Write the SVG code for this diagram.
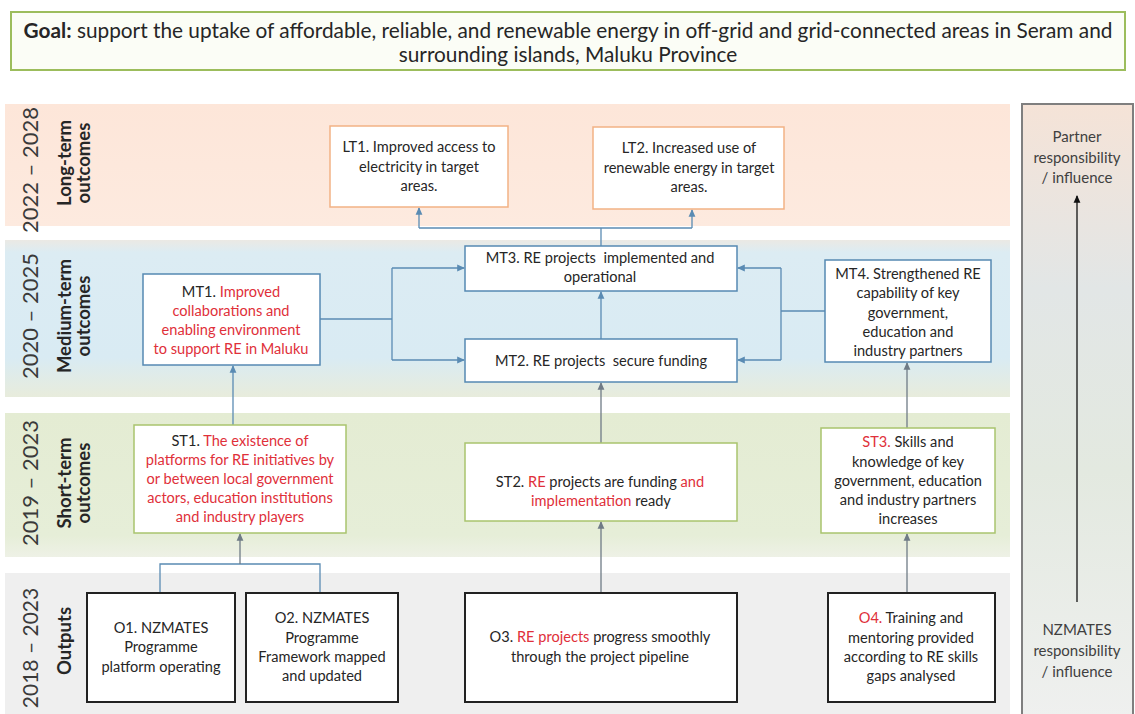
<svg xmlns="http://www.w3.org/2000/svg" width="1135" height="714" viewBox="0 0 1135 714">
<style>
text{font-family:Lato,"Open Sans","Liberation Sans",sans-serif;fill:#262626;}
.t{font-size:14.6px;text-anchor:middle;}
.r{fill:#e0303a;}
.yr{font-size:22px;text-anchor:middle;fill:#3a3a3a;}
.lb{font-size:18.5px;font-weight:bold;text-anchor:middle;fill:#262626;}
.side{font-size:15px;text-anchor:middle;fill:#404040;}
.lt{fill:#ffffff;stroke:#f2b285;stroke-width:1.5;}
.mt{fill:#ffffff;stroke:#5689b3;stroke-width:1.5;}
.st{fill:#ffffff;stroke:#a9c46e;stroke-width:1.5;}
.op{fill:#ffffff;stroke:#222;stroke-width:2;}
.cb{fill:none;stroke:#5a8bb3;stroke-width:1.3;}
.cg{fill:none;stroke:#6f7b86;stroke-width:1.3;}
</style>
<defs>
<marker id="ab" viewBox="0 0 8 8" refX="7" refY="4" markerWidth="6" markerHeight="6" orient="auto-start-reverse"><path d="M0,0.5 L8,4 L0,7.5 z" fill="#5a8bb3"/></marker>
<marker id="ag" viewBox="0 0 8 8" refX="7" refY="4" markerWidth="6" markerHeight="6" orient="auto-start-reverse"><path d="M0,0.5 L8,4 L0,7.5 z" fill="#6f7b86"/></marker>
<marker id="ak" viewBox="0 0 8 8" refX="7" refY="4" markerWidth="6" markerHeight="6" orient="auto-start-reverse"><path d="M0,0.5 L8,4 L0,7.5 z" fill="#111"/></marker>
<linearGradient id="gm" x1="0" y1="0" x2="0" y2="1">
<stop offset="0" stop-color="#ebe9e4"/><stop offset="0.08" stop-color="#dcecf3"/><stop offset="0.75" stop-color="#d9ebf3"/><stop offset="1" stop-color="#e8ecdc"/>
</linearGradient>
<linearGradient id="gs" x1="0" y1="0" x2="0" y2="1">
<stop offset="0" stop-color="#e4ecd3"/><stop offset="0.85" stop-color="#e6eed8"/><stop offset="1" stop-color="#eef1e6"/>
</linearGradient>
<linearGradient id="gl" x1="0" y1="0" x2="0" y2="1">
<stop offset="0" stop-color="#fde6d9"/><stop offset="1" stop-color="#fdeadf"/>
</linearGradient>
<linearGradient id="gc" x1="0" y1="0" x2="0" y2="1">
<stop offset="0" stop-color="#f5e3d7"/><stop offset="0.3" stop-color="#e2e6e6"/><stop offset="0.6" stop-color="#e3e9e0"/><stop offset="1" stop-color="#eff0ef"/>
</linearGradient>
</defs>
<rect x="0" y="0" width="1135" height="714" fill="#ffffff"/>

<!-- Goal -->
<g id="goal">
<rect x="11" y="12" width="1114" height="58" fill="#fbfdf6" stroke="#9cbd5c" stroke-width="2"/>
<text x="568" y="38" style="font-size:20.8px;text-anchor:middle"><tspan font-weight="bold">Goal:</tspan> support the uptake of affordable, reliable, and renewable energy in off-grid and grid-connected areas in Seram and</text>
<text x="568" y="62" style="font-size:20.8px;text-anchor:middle">surrounding islands, Maluku Province</text>
</g>

<!-- Bands -->
<g id="bands">
<rect x="5" y="104" width="1005" height="122" fill="url(#gl)"/>
<rect x="5" y="240" width="1005" height="157" fill="url(#gm)"/>
<rect x="5" y="413" width="1005" height="144" fill="url(#gs)"/>
<rect x="5" y="573" width="1005" height="141" fill="#efefef"/>
</g>

<!-- Row labels -->
<g id="row-labels">
<text class="yr" transform="translate(38,170) rotate(-90)">2022 – 2028</text>
<text class="lb" transform="translate(71,163) rotate(-90)">Long-term</text>
<text class="lb" transform="translate(90,163) rotate(-90)">outcomes</text>
<text class="yr" transform="translate(38,316) rotate(-90)">2020 – 2025</text>
<text class="lb" transform="translate(71,316) rotate(-90)">Medium-term</text>
<text class="lb" transform="translate(90,316) rotate(-90)">outcomes</text>
<text class="yr" transform="translate(38,483) rotate(-90)">2019 – 2023</text>
<text class="lb" transform="translate(71,483) rotate(-90)">Short-term</text>
<text class="lb" transform="translate(90,483) rotate(-90)">outcomes</text>
<text class="yr" transform="translate(38,648) rotate(-90)" style="font-size:21px">2018 – 2023</text>
<text class="lb" transform="translate(71,641) rotate(-90)">Outputs</text>
</g>

<!-- Responsibility column -->
<g id="responsibility">
<rect x="1022" y="104" width="111" height="614" fill="url(#gc)" stroke="#7f7f7f" stroke-width="2"/>
<text class="side" x="1077" y="142">Partner</text>
<text class="side" x="1077" y="163">responsibility</text>
<text class="side" x="1077" y="183">/ influence</text>
<line x1="1077" y1="602" x2="1077" y2="196" stroke="#111" stroke-width="1.3" marker-end="url(#ak)"/>
<text class="side" x="1077" y="635">NZMATES</text>
<text class="side" x="1077" y="656">responsibility</text>
<text class="side" x="1077" y="677">/ influence</text>
</g>

<!-- Connectors -->
<g id="connectors">
<polyline class="cb" points="601,246 601,228"/>
<polyline class="cb" points="419,228 692,228"/>
<line class="cb" x1="419" y1="228" x2="419" y2="208" marker-end="url(#ab)"/>
<line class="cb" x1="692" y1="228" x2="692" y2="210" marker-end="url(#ab)"/>
<polyline class="cb" points="320,319 392,319"/>
<polyline class="cb" points="392,268 392,360"/>
<line class="cb" x1="392" y1="268" x2="464" y2="268" marker-end="url(#ab)"/>
<line class="cb" x1="392" y1="360" x2="464" y2="360" marker-end="url(#ab)"/>
<line class="cb" x1="601" y1="339" x2="601" y2="292" marker-end="url(#ab)"/>
<polyline class="cb" points="825,311 781,311"/>
<polyline class="cb" points="781,268 781,360"/>
<line class="cb" x1="781" y1="268" x2="738" y2="268" marker-end="url(#ab)"/>
<line class="cb" x1="781" y1="360" x2="738" y2="360" marker-end="url(#ab)"/>
<line class="cb" x1="233" y1="425" x2="233" y2="366" marker-end="url(#ab)"/>
<line class="cg" x1="601" y1="443" x2="601" y2="383" marker-end="url(#ag)"/>
<line class="cg" x1="907" y1="428" x2="907" y2="363" marker-end="url(#ag)"/>
<polyline class="cb" points="160,593 160,564 320,564 320,593"/>
<line class="cg" x1="240" y1="564" x2="240" y2="534" marker-end="url(#ag)"/>
<line class="cg" x1="601" y1="593" x2="601" y2="522" marker-end="url(#ag)"/>
<line class="cg" x1="907" y1="593" x2="907" y2="534" marker-end="url(#ag)"/>
</g>

<!-- Long-term -->
<g id="LT1">
<rect class="lt" x="330" y="126" width="178" height="81"/>
<text class="t" x="419" y="152">LT1. Improved access to</text>
<text class="t" x="419" y="172">electricity in target</text>
<text class="t" x="419" y="191">areas.</text>
</g>
<g id="LT2">
<rect class="lt" x="593" y="127" width="191" height="82"/>
<text class="t" x="689" y="153">LT2. Increased use of</text>
<text class="t" x="689" y="173">renewable energy in target</text>
<text class="t" x="689" y="192">areas.</text>
</g>

<!-- Medium-term -->
<g id="MT1">
<rect class="mt" x="143" y="274" width="177" height="91"/>
<text class="t" x="231" y="297">MT1. <tspan class="r">Improved</tspan></text>
<text class="t r" x="231" y="316">collaborations and</text>
<text class="t r" x="231" y="335">enabling environment</text>
<text class="t r" x="231" y="354">to support RE in Maluku</text>
</g>
<g id="MT3">
<rect class="mt" x="465" y="246" width="272" height="45"/>
<text class="t" x="600" y="263" xml:space="preserve">MT3. RE projects  implemented and</text>
<text class="t" x="600" y="282">operational</text>
</g>
<g id="MT2">
<rect class="mt" x="465" y="339" width="272" height="43"/>
<text class="t" x="601" y="366" xml:space="preserve">MT2. RE projects  secure funding</text>
</g>
<g id="MT4">
<rect class="mt" x="825" y="260" width="166" height="102"/>
<text class="t" x="908" y="279">MT4. Strengthened RE</text>
<text class="t" x="908" y="298">capability of key</text>
<text class="t" x="908" y="318">government,</text>
<text class="t" x="908" y="337">education and</text>
<text class="t" x="908" y="356">industry partners</text>
</g>

<!-- Short-term -->
<g id="ST1">
<rect class="st" x="134" y="425" width="212" height="108"/>
<text class="t" x="240" y="446">ST1. <tspan class="r">The existence of</tspan></text>
<text class="t r" x="240" y="465">platforms for RE initiatives by</text>
<text class="t r" x="240" y="484">or between local government</text>
<text class="t r" x="240" y="503">actors, education institutions</text>
<text class="t r" x="240" y="522">and industry players</text>
</g>
<g id="ST2">
<rect class="st" x="465" y="443" width="272" height="78"/>
<text class="t" x="600" y="487">ST2. <tspan class="r">RE</tspan> projects are funding <tspan class="r">and</tspan></text>
<text class="t" x="601" y="506"><tspan class="r">implementation</tspan> ready</text>
</g>
<g id="ST3">
<rect class="st" x="821" y="428" width="174" height="105"/>
<text class="t" x="908" y="447"><tspan class="r">ST3.</tspan> Skills and</text>
<text class="t" x="908" y="467">knowledge of key</text>
<text class="t" x="908" y="486">government, education</text>
<text class="t" x="908" y="505">and industry partners</text>
<text class="t" x="908" y="524">increases</text>
</g>

<!-- Outputs -->
<g id="O1">
<rect class="op" x="87" y="593" width="148" height="109"/>
<text class="t" x="161" y="633">O1. NZMATES</text>
<text class="t" x="161" y="652">Programme</text>
<text class="t" x="161" y="672">platform operating</text>
</g>
<g id="O2">
<rect class="op" x="246" y="593" width="152" height="109"/>
<text class="t" x="322" y="623">O2. NZMATES</text>
<text class="t" x="322" y="643">Programme</text>
<text class="t" x="322" y="662">Framework mapped</text>
<text class="t" x="322" y="681">and updated</text>
</g>
<g id="O3">
<rect class="op" x="465" y="593" width="272" height="109"/>
<text class="t" x="600" y="642">O3. <tspan class="r">RE projects</tspan> progress smoothly</text>
<text class="t" x="600" y="662">through the project pipeline</text>
</g>
<g id="O4">
<rect class="op" x="828" y="593" width="167" height="109"/>
<text class="t" x="911" y="623"><tspan class="r">O4.</tspan> Training and</text>
<text class="t" x="911" y="643">mentoring provided</text>
<text class="t" x="911" y="662">according to RE skills</text>
<text class="t" x="911" y="681">gaps analysed</text>
</g>
</svg>
